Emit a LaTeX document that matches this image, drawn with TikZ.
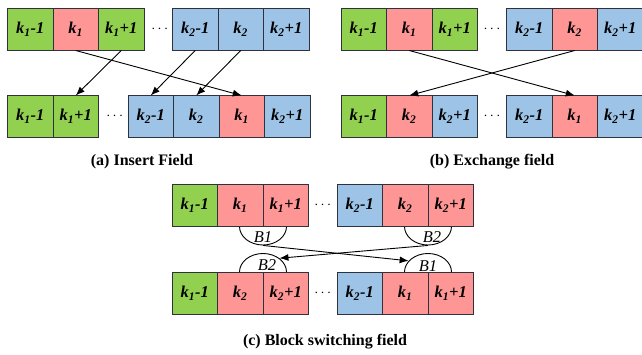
\documentclass[tikz,border=0pt]{standalone}
\usepackage{fontspec}
\setmainfont{Liberation Serif}
\usetikzlibrary{arrows.meta,positioning,shapes.geometric,backgrounds,calc}

\definecolor{fgreen}{RGB}{146,208,80}
\definecolor{fpink}{RGB}{255,150,150}
\definecolor{fblue}{RGB}{157,195,230}
\definecolor{fline}{RGB}{45,50,60}

\newcommand{\kf}[2]{k\textsubscript{#1}#2}

\tikzset{
  cell/.style={draw=fline, line width=1pt, minimum width=45.5pt, minimum height=42pt,
    inner sep=0pt, outer sep=0pt, font=\fontsize{16.5}{19}\selectfont\bfseries\itshape},
  cellg/.style={cell, fill=fgreen},
  cellr/.style={cell, fill=fpink},
  cellb/.style={cell, fill=fblue},
  gap/.style={inner sep=0pt, font=\fontsize{14}{15}\selectfont},
  ptitle/.style={inner sep=0pt, font=\fontsize{16}{18}\selectfont\bfseries},
  blk/.style={ellipse, draw=black, line width=0.9pt, minimum width=47pt,
    minimum height=37pt, inner sep=0pt},
  blab/.style={inner sep=0pt, font=\fontsize{16.5}{19}\selectfont\itshape},
  mv/.style={-{Latex[length=9pt,width=7pt]}, line width=0.9pt}
}

\begin{document}
\begin{tikzpicture}
			 \useasboundingbox (0,0) rectangle (642pt,-355pt);
			 % (a) insert field
			 \node[cellg] (at1) at (30.25pt,-29.5pt) {\kf{1}{-1}};
			 \node[cellr] (at2) [right=0pt of at1] {\kf{1}{}};
			 \node[cellg] (at3) [right=0pt of at2] {\kf{1}{+1}};
			 \node[cellb] (at4) [right=28.5pt of at3] {\kf{2}{-1}};
			 \node[cellb] (at5) [right=0pt of at4] {\kf{2}{}};
			 \node[cellb] (at6) [right=0pt of at5] {\kf{2}{+1}};
			 \node[gap] (atd) at ($(at3.east)!0.55!(at4.west)$) {$\cdots$};
			 \node[cellg] (ab1) [below=45pt of at1] {\kf{1}{-1}};
			 \node[cellg] (ab2) [right=0pt of ab1] {\kf{1}{+1}};
			 \node[cellb] (ab3) [right=29.5pt of ab2] {\kf{2}{-1}};
			 \node[cellb] (ab4) [right=0pt of ab3] {\kf{2}{}};
			 \node[cellr] (ab5) [right=0pt of ab4] {\kf{1}{}};
			 \node[cellb] (ab6) [right=0pt of ab5] {\kf{2}{+1}};
			 \node[gap] (abd) at ($(ab2.east)!0.55!(ab3.west)$) {$\cdots$};
			 \draw[mv] (at2.south) -- (ab5.north);
			 \draw[mv] (at3.south) -- (ab2.north);
			 \draw[mv] (at4.south) -- (ab3.north);
			 \draw[mv] (at5.south) -- (ab4.north);
			 \node[ptitle] (ta) at (142pt,-162pt) {(a) Insert Field};
			 % (b) exchange field
			 \node[cellg] (bt1) at (363.75pt,-29.5pt) {\kf{1}{-1}};
			 \node[cellr] (bt2) [right=0pt of bt1] {\kf{1}{}};
			 \node[cellg] (bt3) [right=0pt of bt2] {\kf{1}{+1}};
			 \node[cellb] (bt4) [right=29pt of bt3] {\kf{2}{-1}};
			 \node[cellr] (bt5) [right=0pt of bt4] {\kf{2}{}};
			 \node[cellb] (bt6) [right=0pt of bt5] {\kf{2}{+1}};
			 \node[gap] (btd) at ($(bt3.east)!0.5!(bt4.west)$) {$\cdots$};
			 \node[cellg] (bb1) [below=45pt of bt1] {\kf{1}{-1}};
			 \node[cellr] (bb2) [right=0pt of bb1] {\kf{2}{}};
			 \node[cellb] (bb3) [right=0pt of bb2] {\kf{2}{+1}};
			 \node[cellb] (bb4) [right=29pt of bb3] {\kf{2}{-1}};
			 \node[cellr] (bb5) [right=0pt of bb4] {\kf{1}{}};
			 \node[cellb] (bb6) [right=0pt of bb5] {\kf{2}{+1}};
			 \node[gap] (bbd) at ($(bb3.east)!0.5!(bb4.west)$) {$\cdots$};
			 \draw[mv] (bt2.south) -- (bb5.north);
			 \draw[mv] (bt5.south) -- (bb2.north);
			 \node[ptitle] (tb) at (492pt,-162pt) {(b) Exchange field};
			 % (c) block switching field
			 \node[cellg] (ct1) at (194.75pt,-205.5pt) {\kf{1}{-1}};
			 \node[cellr] (ct2) [right=0pt of ct1] {\kf{1}{}};
			 \node[cellr] (ct3) [right=0pt of ct2] {\kf{1}{+1}};
			 \node[cellb] (ct4) [right=28.5pt of ct3] {\kf{2}{-1}};
			 \node[cellr] (ct5) [right=0pt of ct4] {\kf{2}{}};
			 \node[cellr] (ct6) [right=0pt of ct5] {\kf{2}{+1}};
			 \node[gap] (ctd) at ($(ct3.east)!0.5!(ct4.west)$) {$\cdots$};
			 \node[cellg] (cb1) [below=45.5pt of ct1] {\kf{1}{-1}};
			 \node[cellr] (cb2) [right=0pt of cb1] {\kf{2}{}};
			 \node[cellr] (cb3) [right=0pt of cb2] {\kf{2}{+1}};
			 \node[cellb] (cb4) [right=28.5pt of cb3] {\kf{2}{-1}};
			 \node[cellr] (cb5) [right=0pt of cb4] {\kf{1}{}};
			 \node[cellr] (cb6) [right=0pt of cb5] {\kf{1}{+1}};
			 \node[gap] (cbd) at ($(cb3.east)!0.5!(cb4.west)$) {$\cdots$};
			 \begin{scope}[on background layer]
			 \node[blk] (e1) at (ct2.south east) {};
			 \node[blk] (e2) at (ct5.south east) {};
			 \node[blk] (e3) at (cb2.north east) {};
			 \node[blk] (e4) at (cb5.north east) {};
			 \end{scope}
			 \node[blab] (l1) at ([yshift=-11pt]e1.center) {B1};
			 \node[blab] (l2) at ([xshift=4pt,yshift=-10.5pt]e2.center) {B2};
			 \node[blab] (l3) at ([xshift=4pt,yshift=6.5pt]e3.center) {B2};
			 \node[blab] (l4) at ([yshift=6pt]e4.center) {B1};
			 \draw[mv] (e1.south) -- (e4.150);
			 \draw[mv] (e2.south) -- (e3.40);
			 \node[ptitle] (tc) at (325pt,-342pt) {(c) Block switching field};
			\end{tikzpicture}
\end{document}
